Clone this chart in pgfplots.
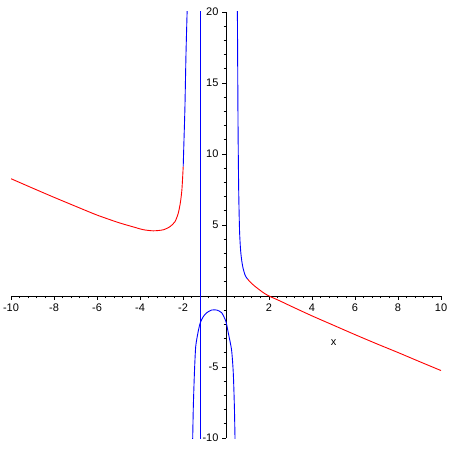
\documentclass[border=0pt]{standalone}
\usepackage{pgfplots}
\pgfplotsset{compat=1.18}
\usepackage{fontspec}
\setmainfont{Liberation Sans}
\begin{document}
\begin{tikzpicture}[x=1pt,y=1pt]
\path[use as bounding box] (0,0) rectangle (450,450);
\begin{axis}[
 at={(11pt,12pt)}, anchor=south west,
 scale only axis, width=430pt, height=426pt,
 xmin=-10,xmax=10,ymin=-10,ymax=20,
 axis lines=middle,
 axis line style={-, line width=0.8pt},
 xtick={-10,-8,-6,-4,-2,2,4,6,8,10},
 ytick={-10,-5,5,10,15,20},
 minor xtick={-9.6,-9.2,-8.8,-8.4,-7.6,-7.2,-6.8,-6.4,-5.6,-5.2,-4.8,-4.4,-3.6,-3.2,-2.8,-2.4,-1.6,-1.2,-0.8,-0.4,0.4,0.8,1.2,1.6,2.4,2.8,3.2,3.6,4.4,4.8,5.2,5.6,6.4,6.8,7.2,7.6,8.4,8.8,9.2,9.6},
 minor ytick={-9,-8,-7,-6,-4,-3,-2,-1,1,2,3,4,6,7,8,9,11,12,13,14,16,17,18,19},
 tick align=outside, major tick length=4pt, minor tick length=2.5pt,
 tick style={black, line width=0.8pt},
 ticklabel style={font=\fontsize{11}{13}\selectfont},
 /pgf/number format/assume math mode=true,
 clip=true,
]
\addplot[red, line width=0.9pt, smooth, tension=0.4] coordinates {
(-10,8.26) (-9,7.60) (-8,6.95) (-7,6.32) (-6,5.70) (-5,5.17) (-4.3,4.86)
(-3.85,4.67) (-3.38,4.59) (-2.92,4.66) (-2.60,4.89) (-2.37,5.24) (-2.22,5.83)
(-2.12,6.60) (-2.05,7.50) (-1.99,9.12)};
\addplot[blue, line width=0.9pt, smooth, tension=0.4] coordinates {
(-1.99,9.12) (-1.95,11.2) (-1.91,13.3) (-1.86,17.1) (-1.80,20.5) (-1.79,21)};
\addplot[blue, line width=0.9pt] coordinates {(-1.17,-11) (-1.17,21)};
\addplot[blue, line width=0.9pt, smooth, tension=0.4] coordinates {
(-1.56,-11) (-1.55,-10.1) (-1.52,-7.8) (-1.47,-5.46) (-1.41,-3.58) (-1.30,-2.55)
(-1.20,-1.90) (-1.06,-1.46) (-0.90,-1.18) (-0.67,-0.99) (-0.43,-0.99) (-0.20,-1.18)
(0,-1.81) (0.11,-2.63) (0.26,-3.81) (0.34,-5.46) (0.39,-7.8) (0.42,-10.1) (0.43,-11)};
\addplot[blue, line width=0.9pt, smooth, tension=0.4] coordinates {
(0.52,21) (0.53,20) (0.56,12) (0.59,7.5) (0.63,4.6) (0.68,3.2) (0.74,2.4) (0.80,1.92)
(0.88,1.50) (0.95,1.30) (1.01,1.18)};
\addplot[red, line width=0.9pt, smooth, tension=0.4] coordinates {
(1.01,1.18) (1.15,0.95) (1.30,0.74) (1.50,0.50) (1.75,0.22) (2.0,0.0) (2.5,-0.34)
(3.0,-0.70) (4.0,-1.40) (5.0,-2.06) (6.0,-2.72) (7.0,-3.36) (8.0,-3.98) (9.0,-4.62) (10,-5.25)};
\node[font=\fontsize{11}{13}\selectfont] at (axis cs:5,-3.3) {x};
\end{axis}
\end{tikzpicture}
\end{document}
